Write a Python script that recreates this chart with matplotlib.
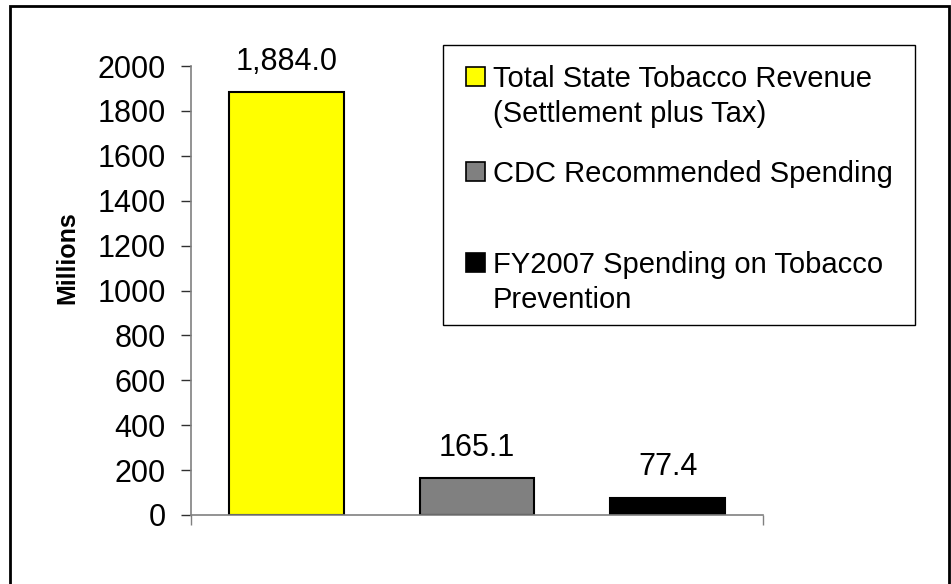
import matplotlib
matplotlib.use("Agg")
import matplotlib.pyplot as plt
from matplotlib.patches import Rectangle

plt.rcParams['font.family'] = ['Liberation Sans', 'DejaVu Sans']

# values in millions of dollars
series = ["Total State Tobacco Revenue\n(Settlement plus Tax)",
          "CDC Recommended Spending",
          "FY2007 Spending on Tobacco\nPrevention"]
amounts = [1884.0, 165.1, 77.4]
bar_colors = ["#FFFF00", "#808080", "#000000"]
yticks = [0, 200, 400, 600, 800, 1000, 1200, 1400, 1600, 1800, 2000]

W, H = 951, 584
fig = plt.figure(figsize=(W / 100, H / 100), dpi=100)
ax = fig.add_axes([191 / W, 1 - 515 / H, (763 - 191) / W, (515 - 66) / H])

x = range(len(amounts))
bars = ax.bar(x, amounts, width=0.6, color=bar_colors, edgecolor="black", linewidth=1.5)
for b, v in zip(bars, amounts):
    ax.annotate(f"{v:,.1f}", (b.get_x() + b.get_width() / 2, v),
                xytext=(0, 16), textcoords="offset points",
                ha="center", va="baseline", fontsize=22)

ax.set_xlim(-0.5, 2.5)
ax.set_ylim(0, 2000)
ax.set_yticks(yticks)
ax.set_yticklabels([str(t) for t in yticks], fontsize=22)
ax.set_xticks([-0.5, 2.5])
ax.set_xticklabels([])
ax.tick_params(axis="both", direction="out", length=7.2, width=1, color="#808080")
ax.tick_params(axis="y", pad=11, color="#303030")
for side in ["top", "right"]:
    ax.spines[side].set_visible(False)
for side in ["left", "bottom"]:
    ax.spines[side].set_color("#808080")
    ax.spines[side].set_linewidth(1.2)

ax.set_ylabel("Millions", fontsize=18, fontweight="bold")
ax.yaxis.set_label_coords(79 / W, 1 - 258 / H, transform=fig.transFigure)

# legend box drawn by hand so the swatch sits on the first line of each label
fig.patches.append(Rectangle((443 / W, 1 - 325 / H), (915 - 443) / W, (325 - 45) / H,
                             transform=fig.transFigure, facecolor="white",
                             edgecolor="black", linewidth=1))
baselines = [87, 182, 273]
line_step = 35
for label, c, yb in zip(series, bar_colors, baselines):
    fig.patches.append(Rectangle((466 / W, 1 - (yb - 1) / H), 19 / W, 19 / H,
                                 transform=fig.transFigure, facecolor=c,
                                 edgecolor="black", linewidth=1.2))
    for i, line in enumerate(label.split("\n")):
        fig.text(493 / W, 1 - (yb + i * line_step) / H, line, fontsize=21,
                 ha="left", va="baseline")

# outer frame (open at the bottom edge of the image)
fig.patches.append(Rectangle((10 / W, -0.1), (949 - 10) / W, 1.1 - 6 / H,
                             transform=fig.transFigure, facecolor="none",
                             edgecolor="black", linewidth=2, clip_on=False))

fig.savefig("out.png", dpi=100)
